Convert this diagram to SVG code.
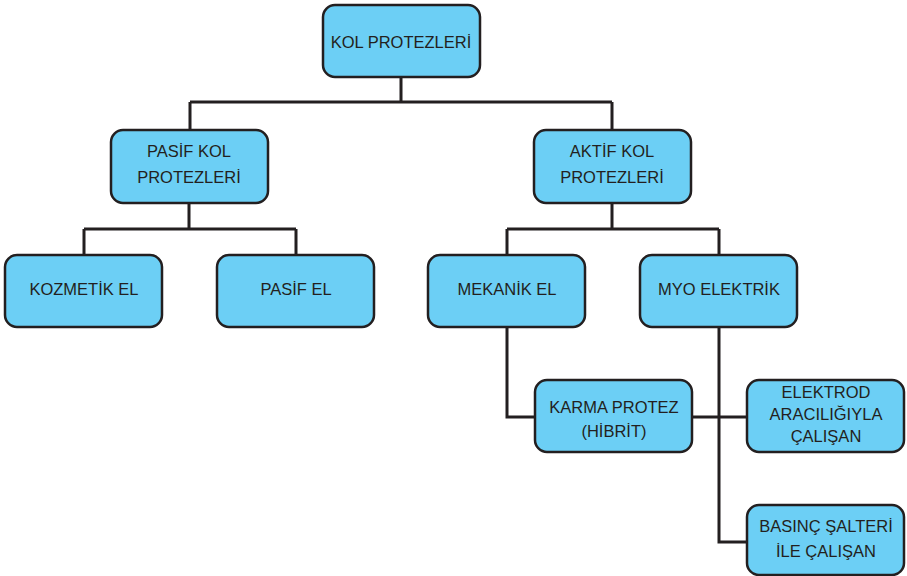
<svg xmlns="http://www.w3.org/2000/svg" width="907" height="576" viewBox="0 0 907 576">
<style>
.n rect{fill:#6ccff5;stroke:#231f20;stroke-width:2.5}
.n text{font-family:"Liberation Sans",Arial,sans-serif;font-size:16.5px;fill:#231f20;text-anchor:middle}
#connectors path{fill:none;stroke:#231f20;stroke-width:3}
</style>
<rect width="907" height="576" fill="#fff"/>
<g id="connectors">
<path d="M401 77V102M190 102H612M190 102V130M612 102V130"/>
<path d="M189 203V229M84 229H296M84 229V255M296 229V255"/>
<path d="M612 203V229M507 229H719M507 229V255M719 229V255"/>
<path d="M507 327V417H535"/>
<path d="M693 417H747"/>
<path d="M719 327V542H747"/>
</g>
<g id="kol" class="n"><rect x="323" y="5" width="157" height="72" rx="12"/><text x="401" y="48">KOL PROTEZLERİ</text></g>
<g id="pasif" class="n"><rect x="111" y="130" width="157" height="73" rx="12"/><text x="189" y="157">PASİF KOL</text><text x="189" y="183">PROTEZLERİ</text></g>
<g id="aktif" class="n"><rect x="534" y="130" width="157" height="73" rx="12"/><text x="612" y="157">AKTİF KOL</text><text x="612" y="183">PROTEZLERİ</text></g>
<g id="kozmetik" class="n"><rect x="5" y="255" width="157" height="72" rx="12"/><text x="84" y="295">KOZMETİK EL</text></g>
<g id="pasifel" class="n"><rect x="217" y="255" width="157" height="72" rx="12"/><text x="296" y="295">PASİF EL</text></g>
<g id="mekanik" class="n"><rect x="428" y="255" width="157" height="72" rx="12"/><text x="507" y="295">MEKANİK EL</text></g>
<g id="myo" class="n"><rect x="640" y="255" width="157" height="72" rx="12"/><text x="719" y="295">MYO ELEKTRİK</text></g>
<g id="karma" class="n"><rect x="535" y="380" width="157" height="72" rx="12"/><text x="614" y="413">KARMA PROTEZ</text><text x="614" y="437">(HİBRİT)</text></g>
<g id="elektrod" class="n"><rect x="747" y="380" width="157" height="72" rx="12"/><text x="826" y="398">ELEKTROD</text><text x="826" y="420">ARACILIĞIYLA</text><text x="826" y="442">ÇALIŞAN</text></g>
<g id="basinc" class="n"><rect x="747" y="505" width="157" height="70" rx="12"/><text x="826" y="532">BASINÇ ŞALTERİ</text><text x="826" y="557">İLE ÇALIŞAN</text></g>
</svg>
